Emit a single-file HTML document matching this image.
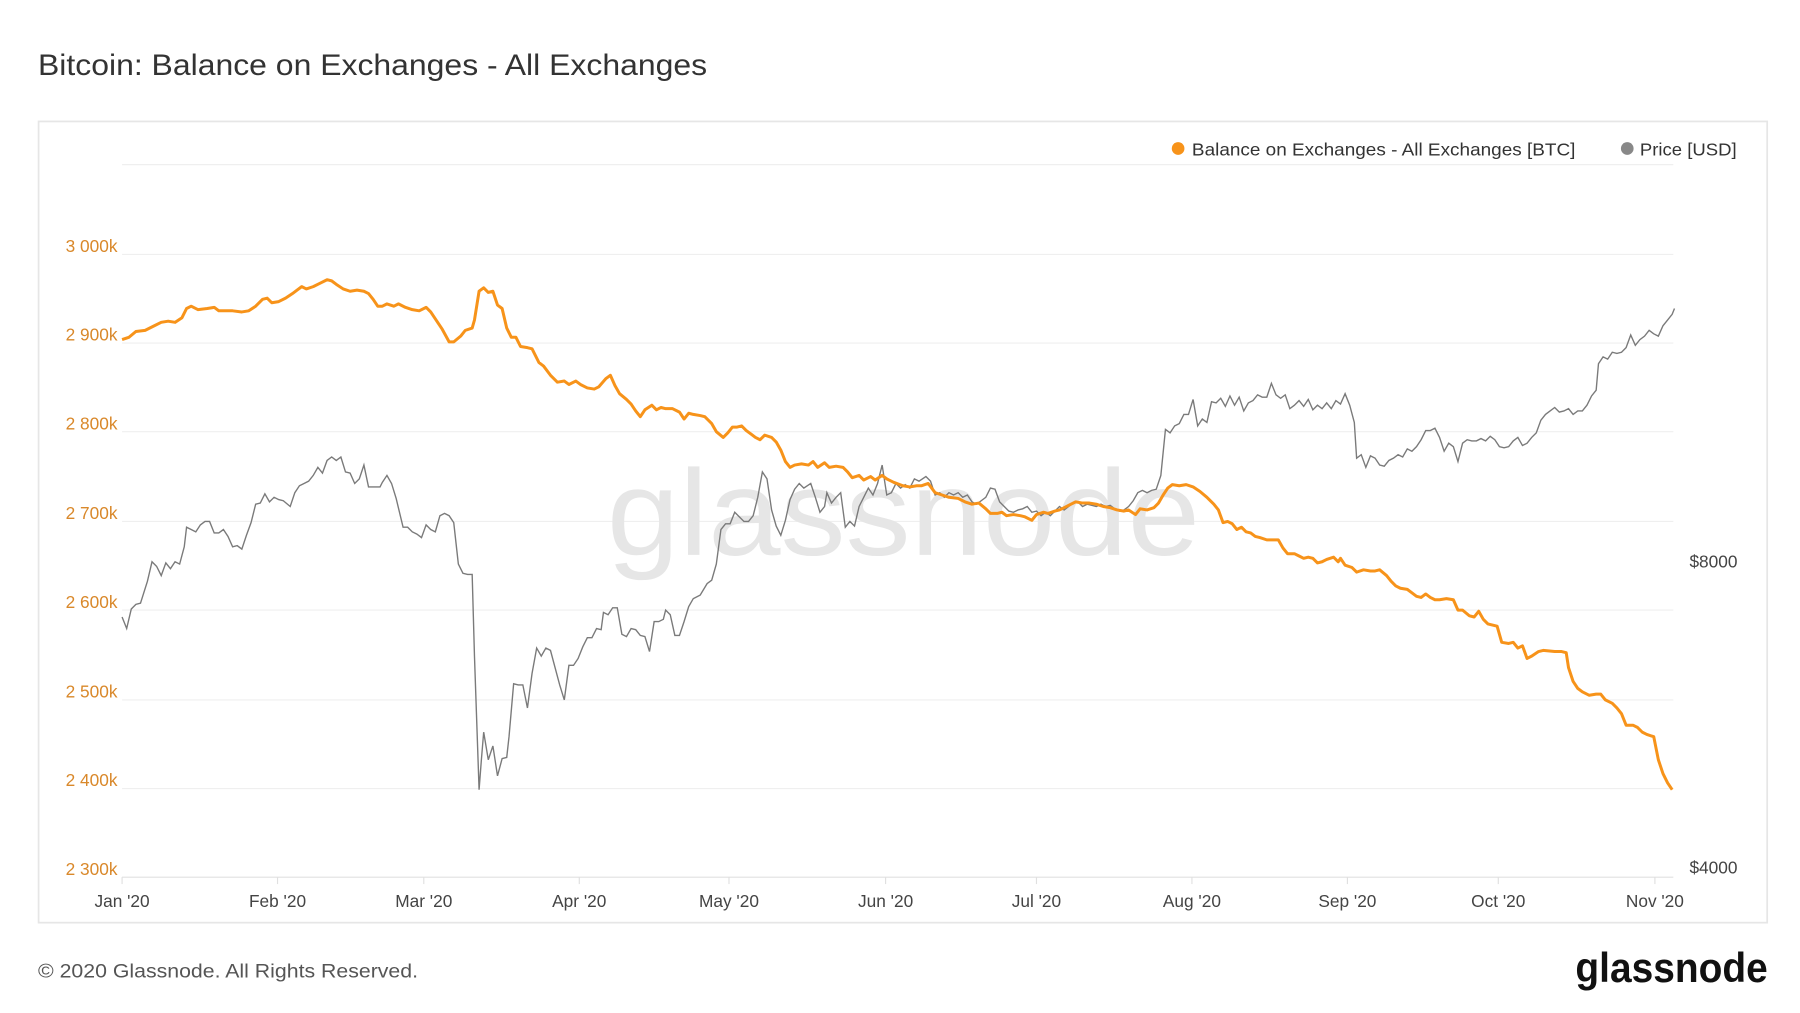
<!DOCTYPE html>
<html><head><meta charset="utf-8"><style>
html,body{margin:0;padding:0;background:#fff;}
svg{display:block;}
text{font-family:"Liberation Sans",sans-serif;}
</style></head><body>
<svg width="1800" height="1013" viewBox="0 0 1563 880" preserveAspectRatio="none" xmlns="http://www.w3.org/2000/svg">
<text x="33" y="65" font-size="26" fill="#333" textLength="581" lengthAdjust="spacingAndGlyphs">Bitcoin: Balance on Exchanges - All Exchanges</text>
<rect x="33.5" y="105.5" width="1501" height="696" fill="#fff" stroke="#e6e6e6" stroke-width="1.5"/>
<g stroke="#efefef" stroke-width="1">
<line x1="106" x2="1453" y1="143" y2="143"/><line x1="106" x2="1453" y1="221" y2="221"/>
<line x1="106" x2="1453" y1="298" y2="298"/><line x1="106" x2="1453" y1="375" y2="375"/>
<line x1="106" x2="1453" y1="453" y2="453"/><line x1="106" x2="1453" y1="530" y2="530"/>
<line x1="106" x2="1453" y1="608" y2="608"/><line x1="106" x2="1453" y1="685" y2="685"/>
</g>
<line x1="106" x2="1453" y1="762" y2="762" stroke="#e0e0e0"/>
<g stroke="#e0e0e0"><line x1="106" x2="106" y1="762" y2="768"/><line x1="241" x2="241" y1="762" y2="768"/><line x1="368" x2="368" y1="762" y2="768"/><line x1="503" x2="503" y1="762" y2="768"/><line x1="633" x2="633" y1="762" y2="768"/><line x1="769" x2="769" y1="762" y2="768"/><line x1="900" x2="900" y1="762" y2="768"/><line x1="1035" x2="1035" y1="762" y2="768"/><line x1="1170" x2="1170" y1="762" y2="768"/><line x1="1301" x2="1301" y1="762" y2="768"/><line x1="1437" x2="1437" y1="762" y2="768"/></g>
<text x="527" y="482" font-size="106" fill="#e6e6e6" textLength="515" lengthAdjust="spacingAndGlyphs">glassnode</text>
<g font-size="15" fill="#d9882a" text-anchor="end">
<text x="102" y="219">3 000k</text><text x="102" y="296">2 900k</text><text x="102" y="373">2 800k</text><text x="102" y="451">2 700k</text><text x="102" y="528">2 600k</text><text x="102" y="606">2 500k</text><text x="102" y="683">2 400k</text><text x="102" y="760">2 300k</text>
</g>
<g font-size="15" fill="#444"><text x="1467" y="493">$8000</text><text x="1467" y="759">$4000</text></g>
<g font-size="15" fill="#444" text-anchor="middle">
<text x="106" y="788">Jan '20</text><text x="241" y="788">Feb '20</text><text x="368" y="788">Mar '20</text><text x="503" y="788">Apr '20</text><text x="633" y="788">May '20</text><text x="769" y="788">Jun '20</text><text x="900" y="788">Jul '20</text><text x="1035" y="788">Aug '20</text><text x="1170" y="788">Sep '20</text><text x="1301" y="788">Oct '20</text><text x="1437" y="788">Nov '20</text>
</g>
<circle cx="1023" cy="129" r="5.5" fill="#f7931a"/><text x="1035" y="135" font-size="15" fill="#333" textLength="333" lengthAdjust="spacingAndGlyphs">Balance on Exchanges - All Exchanges [BTC]</text>
<circle cx="1413" cy="129" r="5.5" fill="#888"/><text x="1424" y="135" font-size="15" fill="#333" textLength="84" lengthAdjust="spacingAndGlyphs">Price [USD]</text>
<polyline fill="none" stroke="#7a7a7a" stroke-width="1.2" points="106,536 110,546 114,529 118,525 122,524 128,505 132,488 136,492 140,500 144,489 148,494 152,488 156,490 160,475 162,458 166,460 170,462 174,456 178,453 182,453 186,463 190,463 194,460 198,466 202,475 206,474 210,477 214,465 218,454 222,438 226,437 230,429 234,436 238,432 242,434 246,435 252,440 256,428 260,422 264,420 268,418 272,413 276,406 280,411 284,400 288,397 292,400 296,397 300,410 304,411 308,420 312,416 316,404 320,423 324,423 330,423 332,419 336,413 340,420 344,433 350,458 354,458 358,462 362,464 366,467 370,456 374,460 378,462 382,448 386,446 390,448 394,454 398,490 402,498 406,499 410,499 412,570 416,686 418,660 420,636 424,660 428,648 432,674 436,659 440,658 442,640 446,594 450,595 454,595 458,615 462,585 466,563 470,570 474,563 478,565 482,580 486,595 490,608 494,578 498,578 502,572 506,562 510,554 514,554 518,546 522,547 524,532 528,534 532,528 536,528 540,551 544,553 548,546 552,547 556,552 560,553 564,566 568,540 572,540 576,538 578,530 582,534 586,552 590,552 594,540 598,527 602,520 608,517 614,507 618,504 622,490 626,460 630,455 634,455 638,445 642,449 646,453 650,453 654,448 658,432 662,410 666,416 670,443 674,457 678,465 682,452 686,434 690,425 694,420 698,424 704,420 708,432 712,445 716,440 718,428 722,437 726,432 730,428 734,458 738,453 742,457 746,440 750,432 754,424 758,430 762,420 766,404 770,430 774,428 778,420 782,424 786,421 790,424 794,416 798,418 804,414 808,418 812,430 816,428 820,432 824,428 828,430 832,428 836,432 840,430 844,436 848,438 852,435 856,432 860,424 864,425 868,436 872,440 876,444 880,445 884,443 888,442 892,440 896,445 900,444 904,448 908,445 912,448 916,444 920,440 924,443 928,440 932,437 936,436 940,440 944,438 948,439 952,440 956,438 960,440 964,439 968,442 972,444 976,443 980,440 984,435 988,428 992,426 996,428 1000,426 1004,425 1008,413 1012,373 1016,376 1020,370 1024,368 1028,360 1032,360 1036,347 1040,370 1044,364 1048,367 1052,349 1056,350 1060,346 1064,353 1068,344 1072,352 1076,345 1080,357 1084,350 1088,348 1092,343 1096,345 1100,345 1104,333 1108,343 1112,346 1116,343 1120,355 1124,352 1128,348 1132,353 1136,347 1140,356 1144,352 1148,355 1152,350 1156,355 1160,348 1164,351 1168,342 1172,352 1176,367 1178,398 1182,395 1186,406 1190,396 1194,398 1198,404 1202,405 1206,400 1210,398 1214,395 1218,397 1222,390 1226,392 1230,388 1234,382 1238,374 1242,374 1246,372 1250,380 1254,392 1258,385 1262,388 1266,401 1270,385 1274,382 1278,383 1282,383 1286,381 1290,383 1294,379 1298,382 1302,388 1306,389 1310,388 1314,383 1318,380 1322,387 1326,385 1330,380 1334,376 1338,365 1342,360 1346,357 1350,354 1354,358 1358,357 1362,355 1366,360 1370,357 1374,357 1378,352 1382,344 1386,339 1388,316 1392,310 1396,312 1400,306 1404,307 1408,306 1412,302 1416,291 1420,300 1424,295 1428,292 1432,287 1436,290 1440,292 1444,283 1448,278 1452,273 1454,268"/>
<polyline fill="none" stroke="#f7931a" stroke-width="2.6" stroke-linejoin="round" points="106,295 112,293 118,288 126,287 134,283 140,280 146,279 152,280 158,276 162,268 166,266 172,269 180,268 186,267 190,270 196,270 202,270 210,271 216,270 222,266 228,260 232,259 236,263 242,262 248,259 254,255 258,252 262,249 266,251 272,249 278,246 284,243 288,244 292,247 298,251 304,253 310,252 316,253 320,255 324,260 328,266 332,266 336,264 342,266 346,264 352,267 358,269 364,270 370,267 374,271 380,280 384,286 390,297 394,297 400,292 404,287 410,285 412,278 416,253 420,250 424,254 428,253 432,265 436,268 440,285 444,293 448,293 452,301 458,302 462,303 468,315 472,318 478,326 484,332 490,331 494,334 500,331 504,334 510,337 516,338 520,336 526,329 530,326 534,335 538,342 544,347 548,351 552,357 556,362 560,356 566,352 570,356 574,354 578,355 584,355 590,358 594,364 598,359 602,360 608,361 612,362 618,368 622,375 628,380 632,376 636,371 640,371 644,370 648,374 652,377 656,380 660,382 664,378 670,380 674,384 678,391 682,401 686,406 690,404 696,403 702,404 706,401 710,406 716,402 720,406 726,405 732,406 736,410 740,415 746,413 750,417 756,414 760,417 766,413 770,416 776,419 784,422 790,423 796,422 800,422 806,420 812,428 818,430 824,432 832,433 838,436 844,438 850,437 856,442 860,446 866,446 870,445 874,448 880,447 886,448 890,449 896,452 900,447 906,445 910,446 916,444 920,443 924,441 928,439 934,436 940,437 946,437 952,438 958,440 964,441 970,443 976,444 980,443 986,447 990,442 996,443 1002,441 1006,437 1010,430 1014,424 1018,421 1024,422 1030,421 1036,423 1042,427 1048,432 1054,438 1058,443 1062,454 1066,453 1070,455 1074,460 1078,458 1082,462 1086,463 1090,466 1094,467 1100,469 1106,469 1110,469 1114,476 1118,481 1124,481 1128,483 1132,485 1136,484 1140,485 1144,489 1148,488 1152,486 1158,484 1162,488 1164,485 1168,491 1174,493 1178,497 1184,495 1190,496 1194,496 1198,495 1204,500 1208,505 1212,509 1216,511 1222,512 1226,515 1230,518 1234,519 1238,516 1242,519 1246,521 1250,521 1256,520 1262,521 1266,530 1270,530 1276,535 1280,536 1284,531 1288,538 1292,542 1296,543 1300,544 1304,558 1310,559 1314,558 1318,563 1322,561 1326,572 1330,570 1336,566 1340,565 1350,566 1356,566 1360,567 1362,580 1366,592 1370,598 1374,601 1380,604 1386,603 1390,603 1394,608 1400,611 1404,615 1408,620 1412,630 1418,630 1422,632 1426,636 1430,638 1436,640 1440,660 1444,672 1448,680 1452,686"/>
<text x="33" y="849" font-size="17" fill="#555" textLength="330" lengthAdjust="spacingAndGlyphs">© 2020 Glassnode. All Rights Reserved.</text>
<text x="1368" y="853" font-size="36" fill="#111" font-weight="bold" textLength="167" lengthAdjust="spacingAndGlyphs">glassnode</text>
</svg>
</body></html>
